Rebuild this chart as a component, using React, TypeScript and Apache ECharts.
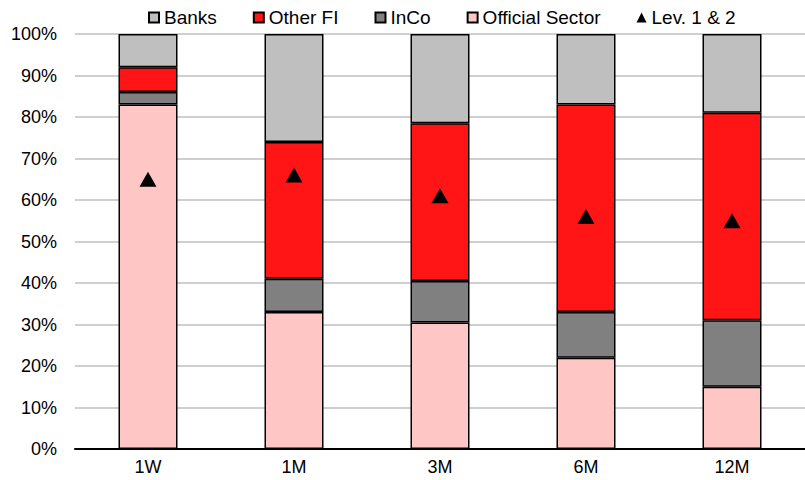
import React, { useEffect, useRef } from "react";
import * as echarts from "echarts";

const categories = ["1W", "1M", "3M", "6M", "12M"];
const officialSector = [83, 33, 30.5, 22, 15];
const inCo = [3, 8, 10, 11, 16];
const otherFI = [6, 33, 38, 50, 50];
const banks = [8, 26, 21.5, 17, 19];
const lev12 = [65, 66, 61, 56, 55];

const FONT = "'Liberation Sans', Arial, sans-serif";
const border = { borderColor: "#000", borderWidth: 1.5 };

export default function App() {
  const ref = useRef<HTMLDivElement>(null);
  useEffect(() => {
    const chart = echarts.init(ref.current!, undefined, { renderer: "svg" });
    const bar = (name: string, data: number[], color: string) => ({
      name,
      type: "bar",
      stack: "total",
      data,
      barWidth: 59,
      itemStyle: { color, ...border },
    });
    chart.setOption({
      animation: false,
      backgroundColor: "#fff",
      textStyle: { fontFamily: FONT },
      legend: {
        left: 148,
        top: 8,
        padding: 0,
        itemWidth: 10,
        itemHeight: 10,
        itemGap: 36,
        textStyle: { fontSize: 19, color: "#000", fontFamily: FONT },
        data: [
          { name: "Banks", icon: "rect" },
          { name: "Other FI", icon: "rect" },
          { name: "InCo", icon: "rect" },
          { name: "Official Sector", icon: "rect" },
          { name: "Lev. 1 & 2", icon: "triangle" },
        ],
      },
      grid: { left: 75, top: 34, width: 735, height: 415 },
      xAxis: {
        type: "category",
        data: categories,
        axisLine: { lineStyle: { color: "#000", width: 2 } },
        axisTick: { show: false },
        axisLabel: { fontSize: 18, color: "#000", margin: 9, fontFamily: FONT },
      },
      yAxis: {
        type: "value",
        min: 0,
        max: 100,
        interval: 10,
        axisLine: { show: false },
        axisTick: { show: false },
        axisLabel: { fontSize: 18, color: "#000", margin: 18, formatter: "{value}%", fontFamily: FONT },
        splitLine: { lineStyle: { color: "#BFBFBF", width: 1.5 } },
      },
      series: [
        bar("Official Sector", officialSector, "#FFC6C6"),
        bar("InCo", inCo, "#808080"),
        bar("Other FI", otherFI, "#FF1515"),
        bar("Banks", banks, "#BFBFBF"),
        {
          name: "Lev. 1 & 2",
          type: "scatter",
          data: lev12,
          symbol: "triangle",
          symbolSize: [17, 15],
          itemStyle: { color: "#000", opacity: 1 },
          z: 5,
        },
      ],
    });
    return () => chart.dispose();
  }, []);
  return (
    <div
      ref={ref}
      style={{ position: "absolute", left: 0, top: 0, width: 805, height: 480 }}
    />
  );
}
